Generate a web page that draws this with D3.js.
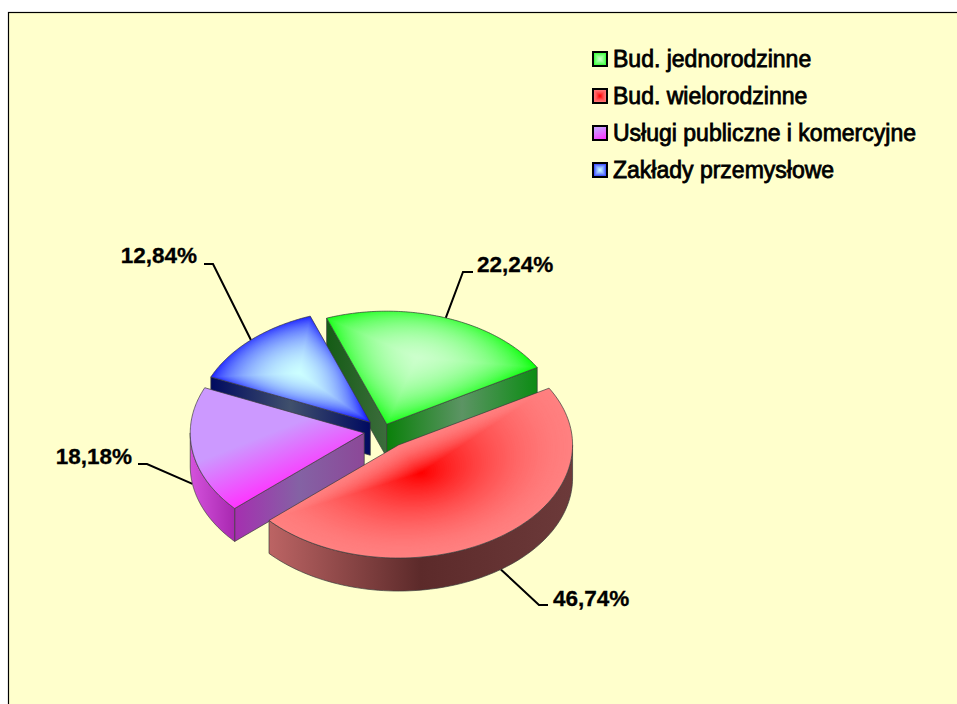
<!DOCTYPE html>
<html>
<head>
<meta charset="utf-8">
<script src="https://cdnjs.cloudflare.com/ajax/libs/d3/7.8.5/d3.min.js"></script>
<style>
  html, body { margin: 0; padding: 0; background: #fff; }
  svg { display: block; }
  text { font-family: "Liberation Sans", Arial, sans-serif; fill: #000; }
</style>
</head>
<body>
<script>
// data
var categories = ["Bud. jednorodzinne", "Bud. wielorodzinne", "Usługi publiczne i komercyjne", "Zakłady przemysłowe"];
var shares = [22.24, 46.74, 18.18, 12.84];

// pull of each slice away from the middle (px)
var explode = [11, 26.5, 19, 18.5];

// colours: edge and centre of the top face
var edgeColors = ["#00ff00", "#ff8080", "#cc99ff", "#0000ff"];
var centerColors = ["#ccffcc", "#ff0000", "#ff33ff", "#ccffff"];
var gradGamma = [0.7, 1.6, 1, 0.7];
var glow = [0.75, 0, 0, 0.75];
var focusNudge = [[-15, -10], [0, 0], [0, 0], [9, 4]];

// horizontal shading of the side walls
var radialWalls = [
  { start: ["#155c15", "#3c6c3c"], end: ["#0a800a", "#5c9464", "#0c8c14"] },
  { start: null, end: null },
  { start: ["#a52fb0", "#8462a4", "#8c4898"], end: null },
  { start: ["#000a60", "#40506c", "#000a60"], end: null }
];
var arcWalls = [null, ["#bc6464", "#5c2a2a", "#6c3a3a"], ["#d452dc", "#a828b0"], null];

// label elbows: where the leader leaves the text
var labelAt = [
  { elbow: [463, 272], tip: [473, 272], tx: 477, ty: 264, anchor: "start" },
  { elbow: [539, 605], tip: [548, 605], tx: 553, ty: 598, anchor: "start" },
  { elbow: [147, 464], tip: [138, 464], tx: 132, ty: 456, anchor: "end" },
  { elbow: [213, 264], tip: [204, 264], tx: 197, ty: 255, anchor: "end" }
];

var width = 957, height = 704;
var cx = 383, cy = 431, radius = 174, tilt = 0.65, depth = 33;
var rot = -20.2 * Math.PI / 180;

var svg = d3.select("body").append("svg")
  .attr("width", width).attr("height", height);
var defs = svg.append("defs");

// chart area
svg.append("rect").attr("x", 8.5).attr("y", 12.5)
  .attr("width", width).attr("height", height)
  .attr("fill", "#ffffcc").attr("stroke", "#000").attr("stroke-width", 1.2);

var pie = d3.pie().sort(null).value(function(d) { return d; })
  .startAngle(rot).endAngle(rot + 2 * Math.PI);
var slices = pie(shares);

slices.forEach(function(d, i) {
  var mid = (d.startAngle + d.endAngle) / 2;
  d.apex = [cx + explode[i] * Math.sin(mid), cy - explode[i] * tilt * Math.cos(mid)];
  d.mid = mid;
});

function rim(d, a, drop) {
  return [d.apex[0] + radius * Math.sin(a), d.apex[1] - radius * tilt * Math.cos(a) + (drop || 0)];
}

function hGrad(id, x0, x1, stops) {
  var g = defs.append("linearGradient").attr("id", id)
    .attr("gradientUnits", "userSpaceOnUse")
    .attr("x1", x0).attr("x2", x1).attr("y1", 0).attr("y2", 0);
  stops.forEach(function(c, k) {
    g.append("stop").attr("offset", k / (stops.length - 1)).attr("stop-color", c);
  });
  return "url(#" + id + ")";
}

var line = d3.line();
var outline = "#3c3c3c";

function radialWall(g, d, a, stops, id) {
  var p = rim(d, a), x = [d.apex[0], p[0]];
  g.append("path")
    .attr("d", line([d.apex, p, [p[0], p[1] + depth], [d.apex[0], d.apex[1] + depth]]) + "Z")
    .attr("fill", hGrad(id, d3.min(x), d3.max(x), stops))
    .attr("stroke", outline).attr("stroke-width", 0.7);
}

// nested copies shrinking to one point give the path shaped gradient
function pathGradient(g, dPath, focus, edge, center, gamma) {
  var steps = 70, mix = d3.interpolateRgb(edge, center);
  d3.range(steps).forEach(function(k) {
    var s = 1 - k / steps;
    g.append("path").attr("d", dPath)
      .attr("transform", "translate(" + focus[0] + "," + focus[1] + ") scale(" + s + ") translate(" +
        (-focus[0]) + "," + (-focus[1]) + ")")
      .attr("fill", mix(Math.pow((k + 0.5) / steps, gamma)));
  });
}

// leaders sit behind the pie
slices.forEach(function(d, i) {
  var front = Math.cos(d.mid) < 0;
  var end = rim(d, d.mid, front ? depth : 0);
  var L = labelAt[i];
  svg.append("path").attr("d", line([L.tip, L.elbow, end]))
    .attr("fill", "none").attr("stroke", "#000").attr("stroke-width", 2);
  svg.append("text").attr("x", L.tx).attr("y", L.ty).attr("dy", "0.35em")
    .attr("text-anchor", L.anchor)
    .attr("font-size", 22.5).attr("font-weight", "bold")
    .attr("stroke", "#000").attr("stroke-width", 0.3)
    .text(d3.format(".2f")(d.value).replace(".", ",") + "%");
});

// back to front
[0, 3, 2, 1].forEach(function(i) {
  var d = slices[i], g = svg.append("g");

  if (radialWalls[i].start) radialWall(g, d, d.startAngle, radialWalls[i].start, "ws" + i);
  if (radialWalls[i].end) radialWall(g, d, d.endAngle, radialWalls[i].end, "we" + i);

  if (arcWalls[i]) {
    var a0 = Math.max(d.startAngle, Math.PI / 2);
    var a1 = Math.min(d.endAngle, 3 * Math.PI / 2);
    var angs = d3.range(0, 81).map(function(k) { return a0 + (a1 - a0) * k / 80; });
    var ring = angs.map(function(a) { return rim(d, a); })
      .concat(angs.slice().reverse().map(function(a) { return rim(d, a, depth); }));
    g.append("path").attr("d", line(ring) + "Z")
      .attr("fill", hGrad("wa" + i, d3.min(ring, function(p) { return p[0]; }),
        d3.max(ring, function(p) { return p[0]; }), arcWalls[i]))
      .attr("stroke", outline).attr("stroke-width", 0.7);
  }

  // top face, in screen coordinates
  var outer = d3.range(0, 101).map(function(k) {
    return rim(d, d.startAngle + (d.endAngle - d.startAngle) * k / 100);
  });
  var dPath = line([d.apex].concat(outer)) + "Z";

  if (i === 2) {
    // this one is a plain two colour blend, not a path gradient
    var p0 = rim(d, d.startAngle);
    var lg = defs.append("linearGradient").attr("id", "topPurple")
      .attr("gradientUnits", "userSpaceOnUse")
      .attr("x1", p0[0]).attr("y1", p0[1]).attr("x2", p0[0] - 21).attr("y2", p0[1] - 53);
    lg.append("stop").attr("offset", 0).attr("stop-color", centerColors[i]);
    lg.append("stop").attr("offset", 1).attr("stop-color", edgeColors[i]);
    g.append("path").attr("d", dPath).attr("fill", "url(#topPurple)");
  } else {
    var all = [d.apex].concat(outer);
    var fx = d3.extent(all, function(p) { return p[0]; });
    var fy = d3.extent(all, function(p) { return p[1]; });
    var focus = [(fx[0] + fx[1]) / 2 + focusNudge[i][0], (fy[0] + fy[1]) / 2 + focusNudge[i][1]];
    pathGradient(g, dPath, focus, edgeColors[i], centerColors[i], gradGamma[i]);

    // the corners stay saturated, the middle of each edge is paler
    if (glow[i] > 0) {
      var reach = d3.max([d.apex, outer[0], outer[100]], function(p) {
        return Math.hypot(p[0] - focus[0], (p[1] - focus[1]) / tilt);
      });
      var rg = defs.append("radialGradient").attr("id", "glow" + i)
        .attr("gradientUnits", "userSpaceOnUse")
        .attr("cx", 0).attr("cy", 0).attr("r", reach)
        .attr("gradientTransform", "translate(" + focus[0] + "," + focus[1] + ") scale(1," + tilt + ")");
      rg.append("stop").attr("offset", 0).attr("stop-color", centerColors[i]).attr("stop-opacity", glow[i]);
      rg.append("stop").attr("offset", 1).attr("stop-color", centerColors[i]).attr("stop-opacity", 0);
      g.append("path").attr("d", dPath).attr("fill", "url(#glow" + i + ")");
    }
  }
  g.append("path").attr("d", dPath)
    .attr("fill", "none").attr("stroke", outline).attr("stroke-width", 0.7);
});

// legend
var legendY = d3.scalePoint().domain(categories).range([59, 170]);
categories.forEach(function(name, i) {
  var y = legendY(name), g = svg.append("g");
  var box = d3.path();
  box.rect(593, y - 7, 14, 14);
  if (i === 2) {
    var lg = defs.append("linearGradient").attr("id", "keyPurple")
      .attr("x1", 0.7).attr("y1", 1).attr("x2", 0.3).attr("y2", 0);
    lg.append("stop").attr("offset", 0).attr("stop-color", centerColors[i]);
    lg.append("stop").attr("offset", 0.8).attr("stop-color", edgeColors[i]);
    g.append("path").attr("d", box.toString()).attr("fill", "url(#keyPurple)");
  } else {
    pathGradient(g, box.toString(), [600, y], edgeColors[i], centerColors[i], gradGamma[i]);
  }
  g.append("path").attr("d", box.toString()).attr("fill", "none")
    .attr("stroke", "#000").attr("stroke-width", 2);
  svg.append("text").attr("x", 613).attr("y", y).attr("dy", "0.35em")
    .attr("font-size", 23)
    .attr("stroke", "#000").attr("stroke-width", 0.8)
    .text(name);
});
</script>
</body>
</html>
